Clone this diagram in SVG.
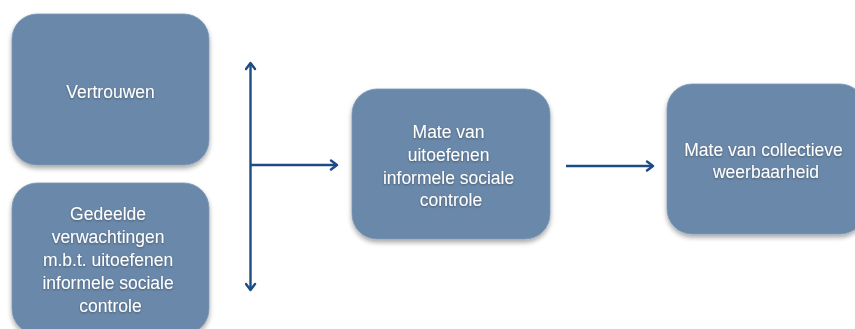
<svg xmlns="http://www.w3.org/2000/svg" width="855" height="329" viewBox="0 0 855 329">
  <defs>
    <filter id="sh" x="-10%" y="-10%" width="120%" height="125%">
      <feGaussianBlur in="SourceAlpha" stdDeviation="2.5"/>
      <feOffset dx="0" dy="2.5" result="b"/>
      <feComponentTransfer><feFuncA type="linear" slope="0.35"/></feComponentTransfer>
      <feMerge><feMergeNode/><feMergeNode in="SourceGraphic"/></feMerge>
    </filter>
    <filter id="tsh" x="-5%" y="-5%" width="110%" height="120%">
      <feGaussianBlur in="SourceAlpha" stdDeviation="0.8"/>
      <feOffset dx="0" dy="1" result="b"/>
      <feComponentTransfer><feFuncA type="linear" slope="0.35"/></feComponentTransfer>
      <feMerge><feMergeNode/><feMergeNode in="SourceGraphic"/></feMerge>
    </filter>
    <marker id="ah" markerWidth="12" markerHeight="12" refX="9" refY="6" orient="auto-start-reverse" markerUnits="userSpaceOnUse">
      <path d="M3,1.5 L9,6 L3,10.5" fill="none" stroke="#1d4b86" stroke-width="2.4" stroke-linecap="round" stroke-linejoin="round"/>
    </marker>
  </defs>
  <style>
    .box { fill: #6a88a9; stroke: #7b97b6; stroke-width: 0.8; filter: url(#sh); }
    .lbl { font-family: "Liberation Sans", Arial, sans-serif; font-size: 17.5px; fill: #ffffff; text-anchor: middle; filter: url(#tsh); }
    .conn { stroke: #1d4b86; stroke-width: 2.4; fill: none; }
  </style>
  <rect width="855" height="329" fill="#ffffff"/>

  <g id="vertrouwen">
    <rect class="box" x="12" y="14" width="197" height="151" rx="25" ry="25"/>
    <text class="lbl" x="110.5" y="98">Vertrouwen</text>
  </g>

  <g id="gedeelde">
    <rect class="box" x="12" y="183" width="197" height="151" rx="25" ry="25"/>
    <text class="lbl" x="110.5" y="220">
      <tspan x="110.5" y="220">Gedeelde</tspan>
      <tspan x="110.5" y="243">verwachtingen</tspan>
      <tspan x="110.5" y="266">m.b.t. uitoefenen</tspan>
      <tspan x="110.5" y="289">informele sociale</tspan>
      <tspan x="110.5" y="312">controle</tspan>
    </text>
  </g>

  <g id="mate-uitoefenen">
    <rect class="box" x="352" y="89" width="198" height="150" rx="25" ry="25"/>
    <text class="lbl">
      <tspan x="451" y="138">Mate van</tspan>
      <tspan x="451" y="160.5">uitoefenen</tspan>
      <tspan x="451" y="183.5">informele sociale</tspan>
      <tspan x="451" y="206">controle</tspan>
    </text>
  </g>

  <g id="mate-weerbaarheid">
    <rect class="box" x="667" y="84" width="198" height="150" rx="25" ry="25"/>
    <text class="lbl">
      <tspan x="766" y="155.5">Mate van collectieve</tspan>
      <tspan x="766" y="178">weerbaarheid</tspan>
    </text>
  </g>

  <g id="connectors">
    <line class="conn" x1="250.5" y1="63" x2="250.5" y2="290" marker-start="url(#ah)" marker-end="url(#ah)"/>
    <line class="conn" x1="250.5" y1="165" x2="337" y2="165" marker-end="url(#ah)"/>
    <line class="conn" x1="566" y1="166" x2="653" y2="166" marker-end="url(#ah)"/>
  </g>
</svg>
